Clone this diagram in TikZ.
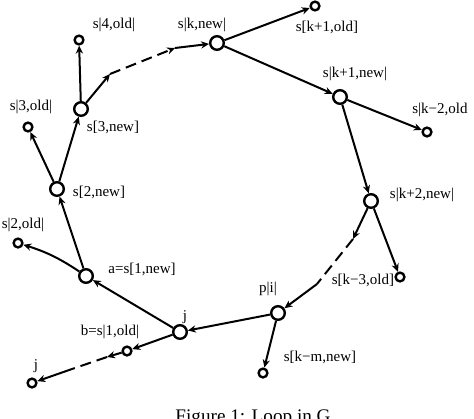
\documentclass[tikz,border=0pt]{standalone}
\usepackage{fontspec}
\setmainfont{Liberation Serif}
\usetikzlibrary{arrows.meta}
\tikzset{
  bignode/.style={circle,draw,line width=1.2pt,inner sep=0pt,minimum size=6.8pt},
  oldnode/.style={circle,draw,line width=1.2pt,inner sep=0pt,minimum size=4.4pt},
  lbl/.style={font=\fontsize{7.5}{9}\selectfont,inner sep=0pt},
  edge/.style={line width=1pt,-{Stealth[length=4pt,width=3.6pt]}},
  gap/.style={line width=1pt,dash pattern=on 5.5pt off 3pt}
}
\begin{document}
\begin{tikzpicture}[x=0.5pt,y=-0.5pt]
\useasboundingbox (0,0) rectangle (474,418);
% Nodes on the loop
\node[bignode] (a) at (86,276) {};
\node[bignode] (s2new) at (57,189) {};
\node[bignode] (s3new) at (81,109) {};
\node[bignode] (sknew) at (217,43) {};
\node[bignode] (sk1new) at (340,97) {};
\node[bignode] (sk2new) at (371,201) {};
\node[bignode] (p) at (278,313) {};
\node[bignode] (j) at (180,332) {};

% Side nodes
\node[oldnode] (s2old) at (18,243) {};
\node[oldnode] (s3old) at (28,127) {};
\node[oldnode] (s4old) at (79,40) {};
\node[oldnode] (sk1old) at (315,6) {};
\node[oldnode] (sk2old) at (427,132) {};
\node[oldnode] (sk3old) at (400,277) {};
\node[oldnode] (skmnew) at (263,373) {};
\node[oldnode] (b) at (127,351) {};
\node[oldnode] (jend) at (32,383) {};

% Ends of the dashed parts
\coordinate (u1) at (110,74);
\coordinate (u2) at (175,48);
\coordinate (r1) at (353,239);
\coordinate (r2) at (317,284);
\coordinate (d1) at (107,357);
\coordinate (d2) at (72,369);

% Edges
\draw[edge] (j) -- (a);
\draw[edge] (a) -- (s2new);
\draw[edge] (a) to[bend right=8] (s2old);
\draw[edge] (s2new) -- (s3new);
\draw[edge] (s2new) -- (s3old);
\draw[edge] (s3new) -- (s4old);
\draw[edge] (s3new) -- (u1);
\draw[edge,gap] (u1) -- (u2);
\draw[edge] (u2) -- (sknew);
\draw[edge] (sknew) -- (sk1old);
\draw[edge] (sknew) -- (sk1new);
\draw[edge] (sk1new) -- (sk2old);
\draw[edge] (sk1new) -- (sk2new);
\draw[edge] (sk2new) -- (sk3old);
\draw[edge] (sk2new) -- (r1);
\draw[gap] (r1) -- (r2);
\draw[edge] (r2) -- (p);
\draw[edge] (p) -- (skmnew);
\draw[edge] (p) -- (j);
\draw[edge] (j) -- (b);
\draw[edge] (b) -- (d1);
\draw[gap] (d1) -- (d2);
\draw[edge] (d2) -- (jend);

% Labels
\node[lbl] (t-s4old) at (114,25) {s|4,old|};
\node[lbl] (t-s3old) at (31,107) {s|3,old|};
\node[lbl] (t-s3new) at (113,127) {s[3,new]};
\node[lbl] (t-s2new) at (99,192) {s[2,new]};
\node[lbl] (t-s2old) at (23,225) {s|2,old|};
\node[lbl] (t-a) at (142,269) {a=s[1,new]};
\node[lbl] (t-j) at (185,317) {j};
\node[lbl] (t-b) at (110,332) {b=s|1,old|};
\node[lbl] (t-jend) at (36,366) {j};
\node[lbl] (t-sknew) at (202,25) {s|k,new|};
\node[lbl] (t-sk1old) at (327,27) {s[k+1,old]};
\node[lbl] (t-sk1new) at (355,74) {s|k+1,new|};
\node[lbl,anchor=west] (t-sk2old) at (412,110) {s|k−2,old};
\node[lbl] (t-sk2new) at (422,195) {s|k+2,new|};
\node[lbl] (t-sk3old) at (363,280) {s[k−3,old]};
\node[lbl] (t-p) at (268,289) {p|i|};
\node[lbl] (t-skmnew) at (320,357) {s[k−m,new]};

% Caption
\node[font=\fontsize{9.6}{11}\selectfont,anchor=north,inner sep=0pt] (cap) at (253,409) {Figure 1: Loop in G};
\end{tikzpicture}
\end{document}
